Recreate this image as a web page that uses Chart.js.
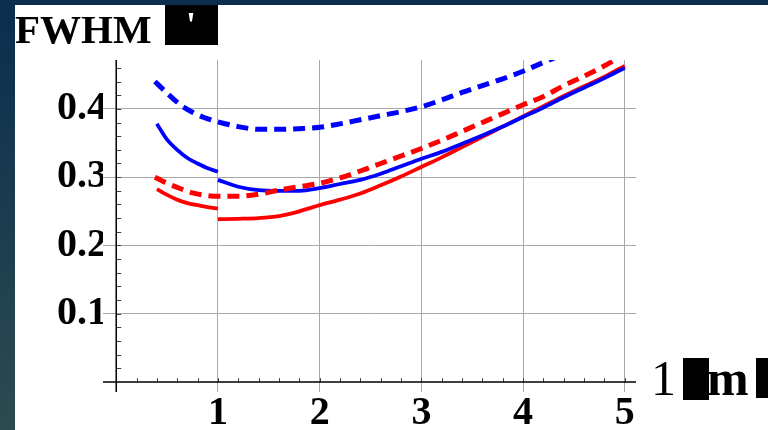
<!DOCTYPE html>
<html>
<head>
<meta charset="utf-8">
<script src="https://cdn.jsdelivr.net/npm/chart.js@4/dist/chart.umd.min.js"></script>
<style>
  html, body { margin: 0; padding: 0; background: #0b2d4e; }
  canvas { display: block; }
</style>
</head>
<body>
<canvas id="fwhm" width="768" height="430"></canvas>
<script>
// wavelength (micron) samples, one pair of arrays per curve
const blueSolidShortX = [0.40, 0.45, 0.50, 0.60, 0.70, 0.80, 0.90, 1.00]
const blueSolidShortY = [0.378, 0.366, 0.355, 0.340, 0.328, 0.320, 0.313, 0.308]

const blueSolidLongX = [1.0, 1.2, 1.4, 1.6, 1.8, 2.0, 2.2, 2.4, 2.6, 2.8, 3.0, 3.2, 3.4, 3.6, 3.8, 4.0, 4.2, 4.4, 4.6, 4.8, 5.0]
const blueSolidLongY = [0.296, 0.286, 0.281, 0.280, 0.280, 0.284, 0.290, 0.296, 0.305, 0.316, 0.327, 0.337, 0.349, 0.361, 0.374, 0.388, 0.402, 0.417, 0.431, 0.445, 0.460]

const redSolidShortX = [0.40, 0.50, 0.60, 0.70, 0.80, 0.90, 1.00]
const redSolidShortY = [0.2825, 0.274, 0.267, 0.262, 0.259, 0.256, 0.254]

const redSolidLongX = [1.0, 1.2, 1.4, 1.6, 1.8, 2.0, 2.2, 2.4, 2.6, 2.8, 3.0, 3.2, 3.4, 3.6, 3.8, 4.0, 4.2, 4.4, 4.6, 4.8, 5.0]
const redSolidLongY = [0.2385, 0.239, 0.240, 0.243, 0.250, 0.259, 0.267, 0.276, 0.288, 0.301, 0.315, 0.329, 0.344, 0.359, 0.374, 0.389, 0.404, 0.419, 0.433, 0.447, 0.463]

const blueDashedX = [0.38, 0.5, 0.63, 0.75, 0.87, 1.0, 1.2, 1.4, 1.6, 1.8, 2.0, 2.2, 2.4, 2.6, 2.8, 3.0, 3.2, 3.4, 3.6, 3.8, 4.0, 4.2, 4.4]
const blueDashedY = [0.440, 0.423, 0.406, 0.395, 0.387, 0.381, 0.374, 0.370, 0.370, 0.371, 0.373, 0.378, 0.384, 0.390, 0.396, 0.403, 0.413, 0.424, 0.434, 0.444, 0.455, 0.468, 0.480]

const redDashedX = [0.38, 0.5, 0.6, 0.75, 0.9, 1.0, 1.2, 1.4, 1.6, 1.8, 2.0, 2.2, 2.4, 2.6, 2.8, 3.0, 3.2, 3.4, 3.6, 3.8, 4.0, 4.2, 4.4, 4.6, 4.8, 5.0]
const redDashedY = [0.300, 0.291, 0.285, 0.277, 0.273, 0.272, 0.272, 0.275, 0.281, 0.286, 0.291, 0.299, 0.309, 0.320, 0.331, 0.342, 0.354, 0.367, 0.380, 0.393, 0.406, 0.418, 0.434, 0.448, 0.463, 0.480]

const xTicks = [1, 2, 3, 4, 5]
const yTicks = [0.1, 0.2, 0.3, 0.4]
const xMinorStep = 0.2
const yMinorStep = 0.02

const titleText = "FWHM"
const xTitleText = ["1", "m"]

const BLUE = "#0000ff"
const RED = "#ff0000"
const SERIF = "'Liberation Serif', 'Times New Roman', serif"

const toPoints = (xs, ys) => xs.map((x, i) => ({ x, y: ys[i] }))

const curve = (xs, ys, color, dashed) => ({
    data: toPoints(xs, ys),
    borderColor: color,
    borderWidth: dashed ? 5 : 3.8,
    borderDash: dashed ? [12, 7] : [],
    fill: false,
})

// background, axes through zero, minor ticks and the header / axis titles
const framePlugin = {
    id: "frame",
    beforeDraw(chart) {
        const c = chart.ctx
        c.save()
        c.fillStyle = "#0b2d4e"
        c.fillRect(0, 0, chart.width, chart.height)
        const g = c.createLinearGradient(0, 0, 0, chart.height)
        g.addColorStop(0, "#0b2d4e")
        g.addColorStop(1, "#2c4b50")
        c.fillStyle = g
        c.fillRect(0, 0, 15, chart.height)
        c.fillStyle = "#ffffff"
        c.fillRect(15, 5, chart.width - 15, chart.height - 5)
        c.restore()
    },
    beforeDatasetsDraw(chart) {
        const { ctx: c, chartArea: a, scales } = chart
        const xs = scales.x
        const ys = scales.y
        const x0 = xs.getPixelForValue(0)
        const y0 = ys.getPixelForValue(0)
        c.save()
        c.strokeStyle = "#444"
        c.lineWidth = 1
        c.beginPath()
        for (let v = xMinorStep; v <= xs.max; v += xMinorStep) {
            const px = Math.round(xs.getPixelForValue(v)) + 0.5
            c.moveTo(px, y0)
            c.lineTo(px, y0 - 4)
        }
        for (let v = yMinorStep; v <= ys.max; v += yMinorStep) {
            const py = Math.round(ys.getPixelForValue(v)) + 0.5
            c.moveTo(x0, py)
            c.lineTo(x0 + 5, py)
        }
        c.stroke()
        c.strokeStyle = "#000"
        c.lineWidth = 1.5
        c.beginPath()
        c.moveTo(a.left, y0)
        c.lineTo(a.right, y0)
        c.moveTo(x0, a.top)
        c.lineTo(x0, a.bottom)
        c.stroke()
        c.restore()
    },
    afterDraw(chart) {
        const c = chart.ctx
        c.save()
        c.fillStyle = "#000"
        c.textBaseline = "alphabetic"
        c.font = "bold 41px " + SERIF
        c.fillText(titleText, 15, 43)
        c.fillRect(165, 5, 53, 40)
        c.fillStyle = "#fff"
        c.font = "bold 36px " + SERIF
        c.fillText("'", 186, 37)

        c.fillStyle = "#000"
        c.font = "50px " + SERIF
        c.fillText(xTitleText[0], 651, 395)
        c.fillRect(683, 358, 26, 42)
        c.font = "bold 50px " + SERIF
        c.fillText(xTitleText[1], 707, 395)
        c.fillRect(756, 358, 12, 40)
        c.restore()
    },
}

const tickFont = { family: SERIF, size: 40, weight: "bold" }

new Chart(document.getElementById("fwhm"), {
    type: "line",
    data: {
        datasets: [
            curve(blueDashedX, blueDashedY, BLUE, true),
            curve(redDashedX, redDashedY, RED, true),
            curve(blueSolidShortX, blueSolidShortY, BLUE, false),
            curve(blueSolidLongX, blueSolidLongY, BLUE, false),
            curve(redSolidShortX, redSolidShortY, RED, false),
            curve(redSolidLongX, redSolidLongY, RED, false),
        ],
    },
    plugins: [framePlugin],
    options: {
        responsive: false,
        animation: false,
        layout: { padding: { top: 60, right: 132, left: 0, bottom: 0 } },
        elements: {
            point: { radius: 0 },
            line: { cubicInterpolationMode: "monotone", borderCapStyle: "butt" },
        },
        plugins: {
            legend: { display: false },
            tooltip: { enabled: false },
        },
        scales: {
            x: {
                type: "linear",
                min: -0.13,
                max: 5.11,
                afterBuildTicks: (s) => {
                    s.ticks = xTicks.map((value) => ({ value }))
                },
                afterFit: (s) => {
                    s.height = 38
                },
                border: { display: false },
                grid: { color: "#a8a8a8", lineWidth: 1, drawTicks: false },
                ticks: {
                    color: "#000",
                    font: tickFont,
                    padding: -2,
                    maxRotation: 0,
                    autoSkip: false,
                    callback: (v) => String(v),
                },
            },
            y: {
                type: "linear",
                min: -0.0145,
                max: 0.4715,
                afterBuildTicks: (s) => {
                    s.ticks = yTicks.map((value) => ({ value }))
                },
                afterFit: (s) => {
                    s.width = 103
                },
                border: { display: false },
                grid: { color: "#a8a8a8", lineWidth: 1, drawTicks: false },
                ticks: {
                    color: "#000",
                    font: tickFont,
                    padding: -4,
                    autoSkip: false,
                    callback: (v) => String(v),
                },
            },
        },
    },
})
</script>
</body>
</html>
